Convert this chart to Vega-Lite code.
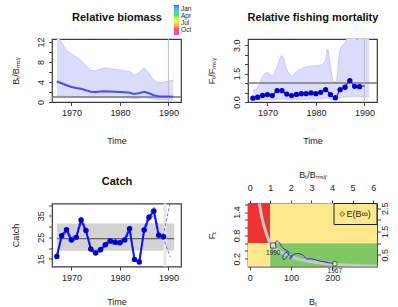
{
  "$schema": "https://vega.github.io/schema/vega-lite/v6.json",
  "padding": {"left": 10, "top": 4, "right": 0, "bottom": 0},
  "background": "white",
  "config": {
    "font": "Liberation Sans",
    "view": {"stroke": "#3a3a3a", "strokeWidth": 1.2},
    "axis": {"grid": false, "domain": false, "tickSize": 3.5, "tickColor": "#444", "tickWidth": 1, "labelFontSize": 9, "titleFontSize": 9, "titleFontWeight": "normal", "labelColor": "#222", "titleColor": "#222", "labelFlush": false, "labelOverlap": false, "labelBound": false}
  },
  "datasets": {
    "bio": [
      {"t": 1967, "est": 4.1, "lo": 1.25, "hi": 13.5},
      {"t": 1968, "est": 3.75, "lo": 1.2, "hi": 11.8},
      {"t": 1969, "est": 3.35, "lo": 1.15, "hi": 10.3},
      {"t": 1970, "est": 3.0, "lo": 1.1, "hi": 9.6},
      {"t": 1971, "est": 2.8, "lo": 1.05, "hi": 9.0},
      {"t": 1972, "est": 2.65, "lo": 1.0, "hi": 8.3},
      {"t": 1973, "est": 2.35, "lo": 0.95, "hi": 7.2},
      {"t": 1974, "est": 2.05, "lo": 0.9, "hi": 6.3},
      {"t": 1975, "est": 2.0, "lo": 0.9, "hi": 6.2},
      {"t": 1976, "est": 2.1, "lo": 0.9, "hi": 6.6},
      {"t": 1977, "est": 2.15, "lo": 0.95, "hi": 6.8},
      {"t": 1978, "est": 2.1, "lo": 0.95, "hi": 6.7},
      {"t": 1979, "est": 2.05, "lo": 0.9, "hi": 6.5},
      {"t": 1980, "est": 2.0, "lo": 0.9, "hi": 6.4},
      {"t": 1981, "est": 1.95, "lo": 0.85, "hi": 6.2},
      {"t": 1982, "est": 1.85, "lo": 0.8, "hi": 6.1},
      {"t": 1983, "est": 1.6, "lo": 0.7, "hi": 5.3},
      {"t": 1984, "est": 1.8, "lo": 0.75, "hi": 5.9},
      {"t": 1985, "est": 2.05, "lo": 0.85, "hi": 6.8},
      {"t": 1986, "est": 1.75, "lo": 0.75, "hi": 5.7},
      {"t": 1987, "est": 1.35, "lo": 0.6, "hi": 4.3},
      {"t": 1988, "est": 1.15, "lo": 0.5, "hi": 3.85},
      {"t": 1989, "est": 1.1, "lo": 0.45, "hi": 3.95},
      {"t": 1990, "est": 1.08, "lo": 0.45, "hi": 4.15},
      {"t": 1991, "est": 1.05, "lo": 0.4, "hi": 4.35}
    ],
    "fest": [
      {"t": 1967, "f": 0.2}, {"t": 1968, "f": 0.25}, {"t": 1969, "f": 0.35}, {"t": 1970, "f": 0.39},
      {"t": 1971, "f": 0.34}, {"t": 1972, "f": 0.6}, {"t": 1973, "f": 0.6}, {"t": 1974, "f": 0.42},
      {"t": 1975, "f": 0.34}, {"t": 1976, "f": 0.4}, {"t": 1977, "f": 0.44}, {"t": 1978, "f": 0.44},
      {"t": 1979, "f": 0.48}, {"t": 1980, "f": 0.44}, {"t": 1981, "f": 0.51}, {"t": 1982, "f": 0.65},
      {"t": 1983, "f": 0.39}, {"t": 1984, "f": 0.23}, {"t": 1985, "f": 0.65}, {"t": 1986, "f": 0.78},
      {"t": 1987, "f": 1.13}, {"t": 1988, "f": 0.83}, {"t": 1989, "f": 0.81}, {"t": 1990, "f": 0.85}
    ],
    "fci": [
      {"t": 1967, "lo": 0.1, "hi": 0.62}, {"t": 1968, "lo": 0.11, "hi": 0.75}, {"t": 1969, "lo": 0.12, "hi": 1.35},
      {"t": 1970, "lo": 0.13, "hi": 1.55}, {"t": 1971, "lo": 0.12, "hi": 1.38}, {"t": 1972, "lo": 0.15, "hi": 1.85},
      {"t": 1973, "lo": 0.16, "hi": 2.45}, {"t": 1974, "lo": 0.14, "hi": 1.7}, {"t": 1975, "lo": 0.12, "hi": 1.38},
      {"t": 1976, "lo": 0.13, "hi": 1.6}, {"t": 1977, "lo": 0.14, "hi": 1.75}, {"t": 1978, "lo": 0.15, "hi": 1.85},
      {"t": 1979, "lo": 0.16, "hi": 1.9}, {"t": 1980, "lo": 0.16, "hi": 1.9}, {"t": 1981, "lo": 0.17, "hi": 1.95},
      {"t": 1982, "lo": 0.2, "hi": 2.2}, {"t": 1982.4, "lo": 0.2, "hi": 2.8}, {"t": 1983, "lo": 0.16, "hi": 1.8},
      {"t": 1983.7, "lo": 0.1, "hi": 1.05}, {"t": 1984.2, "lo": 0.1, "hi": 1.1}, {"t": 1985, "lo": 0.22, "hi": 2.75},
      {"t": 1986, "lo": 0.27, "hi": 3.15}, {"t": 1987, "lo": 0.3, "hi": 3.6}, {"t": 1988, "lo": 0.3, "hi": 3.5},
      {"t": 1988.5, "lo": 0.3, "hi": 3.25}, {"t": 1989, "lo": 0.3, "hi": 3.6}, {"t": 1990, "lo": 0.28, "hi": 3.6},
      {"t": 1991, "lo": 0.27, "hi": 3.6}
    ],
    "catch": [
      {"t": 1967, "c": 16.1}, {"t": 1968, "c": 25.7}, {"t": 1969, "c": 28.5}, {"t": 1970, "c": 23.8},
      {"t": 1971, "c": 25.0}, {"t": 1972, "c": 33.0}, {"t": 1973, "c": 28.2}, {"t": 1974, "c": 19.6},
      {"t": 1975, "c": 17.8}, {"t": 1976, "c": 19.3}, {"t": 1977, "c": 21.6}, {"t": 1978, "c": 23.3},
      {"t": 1979, "c": 22.7}, {"t": 1980, "c": 22.5}, {"t": 1981, "c": 23.8}, {"t": 1982, "c": 29.0},
      {"t": 1983, "c": 14.8}, {"t": 1984, "c": 13.6}, {"t": 1985, "c": 28.4}, {"t": 1986, "c": 34.3},
      {"t": 1987, "c": 37.2}, {"t": 1988, "c": 26.0}, {"t": 1989, "c": 25.3}
    ],
    "cci": [
      {"t": 1967, "lo": 15.5, "hi": 17.2}, {"t": 1968, "lo": 24.5, "hi": 26.8}, {"t": 1969, "lo": 27.2, "hi": 29.5},
      {"t": 1970, "lo": 22.8, "hi": 25.0}, {"t": 1971, "lo": 24.0, "hi": 26.3}, {"t": 1972, "lo": 31.5, "hi": 34.5},
      {"t": 1973, "lo": 27.0, "hi": 29.5}, {"t": 1974, "lo": 18.7, "hi": 20.8}, {"t": 1975, "lo": 17.0, "hi": 18.9},
      {"t": 1976, "lo": 18.4, "hi": 20.4}, {"t": 1977, "lo": 20.6, "hi": 22.7}, {"t": 1978, "lo": 22.2, "hi": 24.4},
      {"t": 1979, "lo": 21.7, "hi": 23.8}, {"t": 1980, "lo": 21.5, "hi": 23.6}, {"t": 1981, "lo": 22.8, "hi": 25.0},
      {"t": 1982, "lo": 27.7, "hi": 30.3}, {"t": 1983, "lo": 14.1, "hi": 15.7}, {"t": 1984, "lo": 12.9, "hi": 14.5},
      {"t": 1985, "lo": 27.1, "hi": 29.7}, {"t": 1986, "lo": 32.7, "hi": 35.9}, {"t": 1987, "lo": 35.5, "hi": 38.9},
      {"t": 1988, "lo": 24.8, "hi": 27.2}, {"t": 1989, "lo": 24.2, "hi": 26.5}, {"t": 1990.4, "lo": 15.8, "hi": 41.5}
    ],
    "traj": [
      {"t": 1967, "b": 206, "f": 0.07}, {"t": 1968, "b": 190, "f": 0.1}, {"t": 1969, "b": 170, "f": 0.14},
      {"t": 1970, "b": 150, "f": 0.2}, {"t": 1971, "b": 138, "f": 0.2}, {"t": 1972, "b": 128, "f": 0.3},
      {"t": 1973, "b": 113, "f": 0.33}, {"t": 1974, "b": 100, "f": 0.26}, {"t": 1975, "b": 97, "f": 0.2},
      {"t": 1976, "b": 101, "f": 0.22}, {"t": 1977, "b": 104, "f": 0.25}, {"t": 1978, "b": 101, "f": 0.26},
      {"t": 1979, "b": 98, "f": 0.28}, {"t": 1980, "b": 97, "f": 0.26}, {"t": 1981, "b": 94, "f": 0.3},
      {"t": 1982, "b": 90, "f": 0.37}, {"t": 1983, "b": 80, "f": 0.26}, {"t": 1984, "b": 83, "f": 0.17},
      {"t": 1985, "b": 95, "f": 0.36}, {"t": 1986, "b": 82, "f": 0.46}, {"t": 1987, "b": 66, "f": 0.66},
      {"t": 1988, "b": 59, "f": 0.52}, {"t": 1989, "b": 56, "f": 0.5}, {"t": 1990, "b": 57, "f": 0.54}
    ],
    "eq": [
      {"b": 22, "f": 1.75}, {"b": 24, "f": 1.6}, {"b": 27, "f": 1.4}, {"b": 31, "f": 1.2}, {"b": 36, "f": 1.0},
      {"b": 42, "f": 0.8}, {"b": 49.8, "f": 0.6}, {"b": 60, "f": 0.48}, {"b": 75, "f": 0.37}, {"b": 90, "f": 0.29},
      {"b": 107, "f": 0.225}, {"b": 125, "f": 0.17}, {"b": 147, "f": 0.125}, {"b": 175, "f": 0.085},
      {"b": 204, "f": 0.058}, {"b": 235, "f": 0.038}, {"b": 268, "f": 0.022}, {"b": 308, "f": 0.008}
    ]
  },
  "columns": 2,
  "spacing": {"row": 101.5, "column": 67},
  "bounds": "flush",
  "resolve": {"scale": {"color": "independent"}},
  "concat": [
    {
      "width": 129, "height": 63,
      "layer": [
        {"layer": [
          {"data": {"name": "bio"}, "mark": {"type": "area", "color": "#dcdcff", "clip": true},
           "encoding": {
             "x": {"field": "t", "type": "quantitative", "scale": {"domain": [1966.0, 1992.6], "nice": false, "zero": false},
                   "axis": {"orient": "bottom", "values": [1970, 1975, 1980, 1985, 1990], "format": "d", "labelExpr": "datum.value % 10 == 0 ? datum.label : ''", "labelOverlap": false, "title": "Time", "titleX": 64.5, "titleY": 38, "titleBaseline": "middle", "titleAlign": "center", "labelPadding": 3}},
             "y": {"field": "lo", "type": "quantitative", "scale": {"domain": [0, 12.6], "nice": false, "zero": false}, "axis": null},
             "y2": {"field": "hi"}}},
          {"data": {"name": "bio"}, "mark": {"type": "line", "color": "#c6c6ff", "strokeWidth": 1, "clip": true},
           "encoding": {"x": {"field": "t", "type": "quantitative"}, "y": {"field": "hi", "type": "quantitative"}}},
          {"data": {"name": "bio"}, "mark": {"type": "line", "color": "#c6c6ff", "strokeWidth": 1, "clip": true},
           "encoding": {"x": {"field": "t", "type": "quantitative"}, "y": {"field": "lo", "type": "quantitative"}}},
          {"data": {"values": [{}]}, "mark": {"type": "rule", "color": "#777777", "strokeWidth": 1.5}, "encoding": {"y": {"datum": 1}}},
          {"data": {"values": [{}]}, "mark": {"type": "rule", "color": "#bbbbbb", "strokeWidth": 1}, "encoding": {"x": {"datum": 1990}}},
          {"data": {"name": "bio"}, "mark": {"type": "line", "color": "#4a4aff", "strokeWidth": 2, "clip": true},
           "encoding": {"x": {"field": "t", "type": "quantitative"}, "y": {"field": "est", "type": "quantitative"}}},
          {"data": {"values": [{"m": 0}, {"m": 1}]}, "mark": {"type": "point", "size": 0, "filled": true, "strokeWidth": 0},
           "encoding": {"color": {"field": "m", "type": "quantitative",
             "scale": {"domain": [0, 0.2, 0.33, 0.47, 0.65, 1], "range": ["#b000d0", "#ff0000", "#ff8c00", "#ffff00", "#00e000", "#0000ff"]},
             "legend": {"orient": "none", "legendX": 122, "legendY": -34, "direction": "vertical", "gradientLength": 30, "gradientThickness": 5, "title": null, "values": [0.867, 0.633, 0.4, 0.167], "labelExpr": "datum.value > 0.75 ? 'Jan' : datum.value > 0.5 ? 'Apr' : datum.value > 0.3 ? 'Jul' : 'Oct'", "labelFontSize": 6.5, "labelOffset": 2, "labelBaseline": "middle", "gradientStrokeWidth": 0, "labelOverlap": false, "labelColor": "#222"}}}}
        ]},
        {"data": {"values": [{"z": 0}]}, "mark": {"type": "point", "opacity": 0},
         "encoding": {"x": {"field": "z", "type": "quantitative", "axis": {"orient": "top", "ticks": false, "labels": false, "title": "Relative biomass", "titleFontSize": 11, "titleFontWeight": "bold", "titleColor": "#111", "titleX": 64.5, "titleY": -22, "titleBaseline": "middle", "titleAlign": "center", "titleAngle": 0}},
                      "y": {"field": "z", "type": "quantitative", "scale": {"domain": [0, 12.6], "nice": false, "zero": false},
                            "axis": {"orient": "left", "values": [0, 2, 4, 6, 8, 10, 12], "labelExpr": "datum.value % 4 == 0 ? datum.label : ' '", "labelOverlap": false, "labelAngle": 270, "labelAlign": "center", "labelBaseline": "middle", "labelPadding": 8, "title": "Bₜ/Bₘₛᵧ", "titleX": -37, "titleY": 31.5, "titleAngle": 270, "titleAlign": "center", "titleBaseline": "middle"}}}}
      ],
      "resolve": {"scale": {"x": "independent", "y": "independent"}}
    },
    {
      "width": 129, "height": 63,
      "layer": [
        {"layer": [
          {"data": {"name": "fci"}, "mark": {"type": "area", "color": "#dcdcff", "clip": true, "interpolate": "monotone"},
           "encoding": {
             "x": {"field": "t", "type": "quantitative", "scale": {"domain": [1966.0, 1992.6], "nice": false, "zero": false},
                   "axis": {"orient": "bottom", "values": [1970, 1975, 1980, 1985, 1990], "format": "d", "labelExpr": "datum.value % 10 == 0 ? datum.label : ''", "labelOverlap": false, "title": "Time", "titleX": 64.5, "titleY": 38, "titleBaseline": "middle", "titleAlign": "center", "labelPadding": 3}},
             "y": {"field": "lo", "type": "quantitative", "scale": {"domain": [0, 3.33], "nice": false, "zero": false}, "axis": null},
             "y2": {"field": "hi"}}},
          {"data": {"name": "fci"}, "mark": {"type": "line", "color": "#c6c6ff", "strokeWidth": 1, "clip": true, "interpolate": "monotone"},
           "encoding": {"x": {"field": "t", "type": "quantitative"}, "y": {"field": "hi", "type": "quantitative"}}},
          {"data": {"name": "fci"}, "mark": {"type": "line", "color": "#c6c6ff", "strokeWidth": 1, "clip": true, "interpolate": "monotone"},
           "encoding": {"x": {"field": "t", "type": "quantitative"}, "y": {"field": "lo", "type": "quantitative"}}},
          {"data": {"values": [{}]}, "mark": {"type": "rule", "color": "#777777", "strokeWidth": 1.5}, "encoding": {"y": {"datum": 1}}},
          {"data": {"values": [{}]}, "mark": {"type": "rule", "color": "#bbbbbb", "strokeWidth": 1}, "encoding": {"x": {"datum": 1990}}},
          {"data": {"name": "fest"}, "mark": {"type": "line", "color": "#2020ff", "strokeWidth": 1.2, "clip": true, "interpolate": "monotone"},
           "encoding": {"x": {"field": "t", "type": "quantitative"}, "y": {"field": "f", "type": "quantitative"}}},
          {"data": {"name": "fest"}, "transform": [{"filter": "datum.t <= 1989"}], "mark": {"type": "circle", "color": "#0000c8", "size": 28, "opacity": 1},
           "encoding": {"x": {"field": "t", "type": "quantitative"}, "y": {"field": "f", "type": "quantitative"}}}
        ]},
        {"data": {"values": [{"z": 0}]}, "mark": {"type": "point", "opacity": 0},
         "encoding": {"x": {"field": "z", "type": "quantitative", "axis": {"orient": "top", "ticks": false, "labels": false, "title": "Relative fishing mortality", "titleFontSize": 11, "titleFontWeight": "bold", "titleColor": "#111", "titleX": 64.5, "titleY": -22, "titleBaseline": "middle", "titleAlign": "center", "titleAngle": 0}},
                      "y": {"field": "z", "type": "quantitative", "scale": {"domain": [0, 3.33], "nice": false, "zero": false},
                            "axis": {"orient": "left", "values": [0, 0.5, 1, 1.5, 2, 2.5, 3], "labelExpr": "datum.value == 0 || datum.value == 1.5 || datum.value == 3 ? format(datum.value, '.1f') : ' '", "labelOverlap": false, "labelAngle": 270, "labelAlign": "center", "labelBaseline": "middle", "labelPadding": 8, "title": "Fₜ/Fₘₛᵧ", "titleX": -37, "titleY": 31.5, "titleAngle": 270, "titleAlign": "center", "titleBaseline": "middle"}}}}
      ],
      "resolve": {"scale": {"x": "independent", "y": "independent"}}
    },
    {
      "width": 129, "height": 63,
      "layer": [
        {"layer": [
          {"data": {"values": [{"t1": 1967, "t2": 1991.2, "lo": 18.8, "hi": 31.4}]}, "mark": {"type": "rect", "color": "#d3d3d3"},
           "encoding": {
             "x": {"field": "t1", "type": "quantitative", "scale": {"domain": [1966.0, 1992.6], "nice": false, "zero": false},
                   "axis": {"orient": "bottom", "values": [1970, 1975, 1980, 1985, 1990], "format": "d", "labelExpr": "datum.value % 10 == 0 ? datum.label : ''", "labelOverlap": false, "title": "Time", "titleX": 64.5, "titleY": 35, "titleBaseline": "middle", "titleAlign": "center", "labelPadding": 3}},
             "x2": {"field": "t2"},
             "y": {"field": "lo", "type": "quantitative", "scale": {"domain": [11.5, 40.7], "nice": false, "zero": false}, "axis": null},
             "y2": {"field": "hi"}}},
          {"data": {"values": [{"t1": 1967, "t2": 1991.2, "m": 24.4}]}, "mark": {"type": "rule", "color": "#666666", "strokeWidth": 1.2},
           "encoding": {"x": {"field": "t1", "type": "quantitative"}, "x2": {"field": "t2"}, "y": {"field": "m", "type": "quantitative"}}},
          {"data": {"values": [{}]}, "mark": {"type": "rule", "color": "#e6e6e6", "strokeWidth": 3}, "encoding": {"x": {"datum": 1989.3}}},
          {"data": {"name": "cci"}, "mark": {"type": "line", "color": "#6a6aff", "strokeWidth": 1, "strokeDash": [3, 2], "clip": true},
           "encoding": {"x": {"field": "t", "type": "quantitative"}, "y": {"field": "hi", "type": "quantitative"}}},
          {"data": {"name": "cci"}, "mark": {"type": "line", "color": "#6a6aff", "strokeWidth": 1, "strokeDash": [3, 2], "clip": true},
           "encoding": {"x": {"field": "t", "type": "quantitative"}, "y": {"field": "lo", "type": "quantitative"}}},
          {"data": {"name": "catch"}, "mark": {"type": "line", "color": "#1010ff", "strokeWidth": 2},
           "encoding": {"x": {"field": "t", "type": "quantitative"}, "y": {"field": "c", "type": "quantitative"}}},
          {"data": {"name": "catch"}, "mark": {"type": "circle", "color": "#0000c8", "size": 30, "opacity": 1},
           "encoding": {"x": {"field": "t", "type": "quantitative"}, "y": {"field": "c", "type": "quantitative"}}}
        ]},
        {"data": {"values": [{"z": 20}]}, "mark": {"type": "point", "opacity": 0},
         "encoding": {"x": {"field": "z", "type": "quantitative", "axis": {"orient": "top", "ticks": false, "labels": false, "title": "Catch", "titleFontSize": 11, "titleFontWeight": "bold", "titleColor": "#111", "titleX": 64.5, "titleY": -22, "titleBaseline": "middle", "titleAlign": "center", "titleAngle": 0}},
                      "y": {"field": "z", "type": "quantitative", "scale": {"domain": [11.5, 40.7], "nice": false, "zero": false},
                            "axis": {"orient": "left", "values": [15, 20, 25, 30, 35, 40], "labelExpr": "datum.value == 15 || datum.value == 25 || datum.value == 35 ? datum.label : ' '", "labelOverlap": false, "labelAngle": 270, "labelAlign": "center", "labelBaseline": "middle", "labelPadding": 8, "title": "Catch", "titleX": -37, "titleY": 31.5, "titleAngle": 270, "titleAlign": "center", "titleBaseline": "middle"}}}}
      ],
      "resolve": {"scale": {"x": "independent", "y": "independent"}}
    },
    {
      "width": 129, "height": 63,
      "layer": [
        {"layer": [
          {"data": {"values": [{"b1": -4, "b2": 49.8, "f1": 0.6, "f2": 1.62}]}, "mark": {"type": "rect", "color": "#ee3333"},
           "encoding": {
             "x": {"field": "b1", "type": "quantitative", "scale": {"domain": [-4, 308], "nice": false, "zero": false},
                   "axis": {"orient": "bottom", "values": [0, 50, 100, 150, 200, 250], "labelOverlap": false, "title": "Bₜ", "titleX": 64.5, "titleY": 35, "titleBaseline": "middle", "titleAlign": "center", "labelPadding": 3}},
             "x2": {"field": "b2"},
             "y": {"field": "f1", "type": "quantitative", "scale": {"domain": [0, 1.62], "nice": false, "zero": false}, "axis": null},
             "y2": {"field": "f2"}}},
          {"data": {"values": [{"b1": 49.8, "b2": 308, "f1": 0.6, "f2": 1.62}, {"b1": -4, "b2": 49.8, "f1": 0, "f2": 0.6}]}, "mark": {"type": "rect", "color": "#fde88c"},
           "encoding": {"x": {"field": "b1", "type": "quantitative"}, "x2": {"field": "b2"}, "y": {"field": "f1", "type": "quantitative"}, "y2": {"field": "f2"}}},
          {"data": {"values": [{"b1": 49.8, "b2": 308, "f1": 0, "f2": 0.6}]}, "mark": {"type": "rect", "color": "#80c864"},
           "encoding": {"x": {"field": "b1", "type": "quantitative"}, "x2": {"field": "b2"}, "y": {"field": "f1", "type": "quantitative"}, "y2": {"field": "f2"}}},
          {"data": {"name": "eq"}, "mark": {"type": "line", "color": "#c8c8c8", "strokeWidth": 3, "clip": true, "interpolate": "monotone"},
           "encoding": {"x": {"field": "b", "type": "quantitative"}, "y": {"field": "f", "type": "quantitative"}}},
          {"data": {"name": "traj"}, "mark": {"type": "line", "color": "#2a2ae8", "strokeWidth": 1, "interpolate": "catmull-rom"},
           "encoding": {"x": {"field": "b", "type": "quantitative"}, "y": {"field": "f", "type": "quantitative"}, "order": {"field": "t"}}},
          {"data": {"name": "traj"}, "transform": [{"filter": "datum.t == 1967"}], "mark": {"type": "point", "shape": "circle", "filled": true, "fill": "white", "stroke": "#222", "strokeWidth": 1, "size": 22},
           "encoding": {"x": {"field": "b", "type": "quantitative"}, "y": {"field": "f", "type": "quantitative"}}},
          {"data": {"name": "traj"}, "transform": [{"filter": "datum.t == 1990"}], "mark": {"type": "point", "shape": "square", "filled": true, "fill": "white", "stroke": "#222", "strokeWidth": 1, "size": 26},
           "encoding": {"x": {"field": "b", "type": "quantitative"}, "y": {"field": "f", "type": "quantitative"}}},
          {"data": {"name": "traj"}, "transform": [{"filter": "datum.t == 1967 || datum.t == 1990"}], "mark": {"type": "text", "fontSize": 6.5, "dy": 7, "color": "#222", "baseline": "middle"},
           "encoding": {"x": {"field": "b", "type": "quantitative"}, "y": {"field": "f", "type": "quantitative"}, "text": {"field": "t", "type": "quantitative", "format": "d"}}},
          {"data": {"values": [{"b1": 204, "b2": 308, "f1": 1.08, "f2": 1.62}]}, "mark": {"type": "rect", "fill": null, "fillOpacity": 0, "stroke": "#222", "strokeWidth": 1},
           "encoding": {"x": {"field": "b1", "type": "quantitative"}, "x2": {"field": "b2"}, "y": {"field": "f1", "type": "quantitative"}, "y2": {"field": "f2"}}},
          {"data": {"values": [{"b": 224, "f": 1.35}]}, "mark": {"type": "point", "shape": "diamond", "filled": true, "fill": "#e8b820", "stroke": "#222", "strokeWidth": 0.8, "size": 28},
           "encoding": {"x": {"field": "b", "type": "quantitative"}, "y": {"field": "f", "type": "quantitative"}}},
          {"data": {"values": [{"b": 234, "f": 1.35, "lab": "E(B∞)"}]}, "mark": {"type": "text", "fontSize": 9, "align": "left", "baseline": "middle", "color": "#222"},
           "encoding": {"x": {"field": "b", "type": "quantitative"}, "y": {"field": "f", "type": "quantitative"}, "text": {"field": "lab"}}}
        ]},
        {"data": {"values": [{"bb": 0, "ff": 0.5}]}, "mark": {"type": "point", "opacity": 0},
         "encoding": {
           "x": {"field": "bb", "type": "quantitative", "scale": {"domain": [-0.0803, 6.185], "nice": false, "zero": false},
                 "axis": {"orient": "top", "values": [0, 1, 2, 3, 4, 5, 6], "labelOverlap": false, "title": "Bₜ/Bₘₛᵧ", "titleX": 64.5, "titleY": -29, "titleBaseline": "middle", "titleAlign": "center", "labelPadding": 8}},
           "y": {"field": "ff", "type": "quantitative", "scale": {"domain": [0, 2.7], "nice": false, "zero": false},
                 "axis": {"orient": "right", "values": [0.5, 1, 1.5, 2, 2.5], "labelExpr": "datum.value == 0.5 || datum.value == 1.5 || datum.value == 2.5 ? format(datum.value, '.1f') : ''", "labelOverlap": false, "labelAngle": 270, "labelAlign": "center", "labelBaseline": "middle", "labelPadding": 4, "title": null}}}},
        {"data": {"values": [{"fz": 0.5}]}, "mark": {"type": "point", "opacity": 0},
         "encoding": {
           "y": {"field": "fz", "type": "quantitative", "scale": {"domain": [0, 1.62], "nice": false, "zero": false},
                 "axis": {"orient": "left", "values": [0.2, 0.4, 0.6, 0.8, 1.0, 1.2, 1.4, 1.6], "labelExpr": "abs(datum.value-0.2)<0.01 || abs(datum.value-0.8)<0.01 || abs(datum.value-1.4)<0.01 ? format(datum.value, '.1f') : ' '", "labelOverlap": false, "labelAngle": 270, "labelAlign": "center", "labelBaseline": "middle", "labelPadding": 8, "title": "Fₜ", "titleX": -37, "titleY": 31.5, "titleAngle": 270, "titleAlign": "center", "titleBaseline": "middle"}}}}
      ],
      "resolve": {"scale": {"x": "independent", "y": "independent"}}
    }
  ]
}
